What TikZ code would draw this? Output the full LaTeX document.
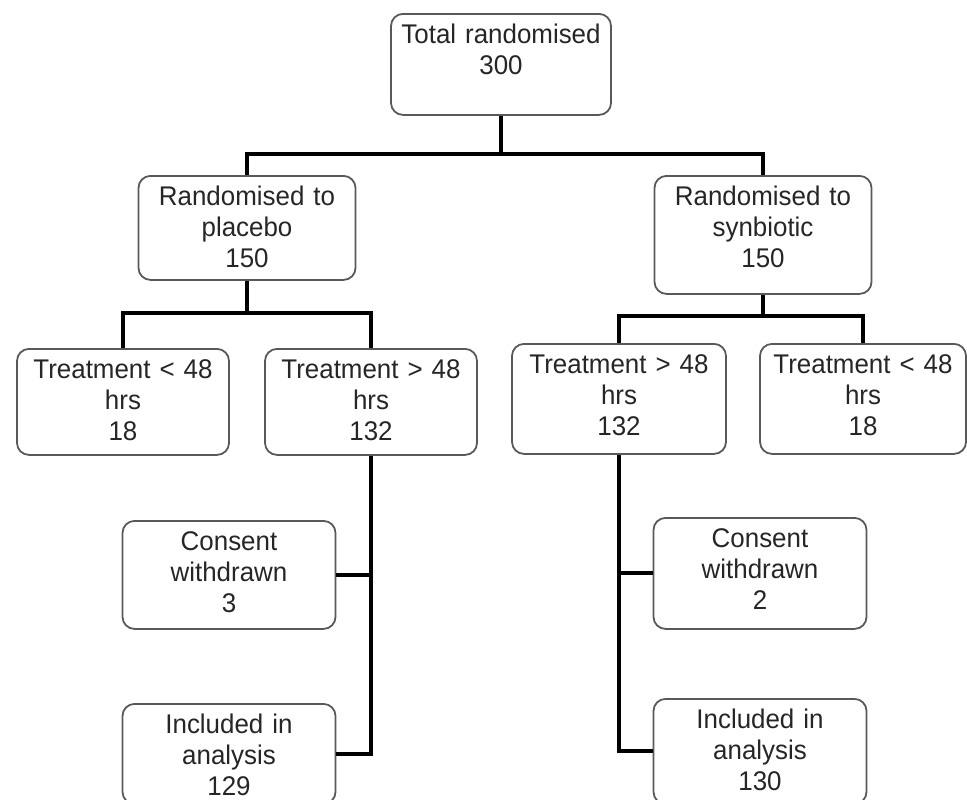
\documentclass[tikz,border=0pt]{standalone}
\usepackage{fontspec}
\setmainfont[FakeStretch=0.96]{Liberation Sans}
\usepackage{tikz}
\tikzset{
	box/.style 2 args={
			draw=black!65, line width=0.9pt, rounded corners=6pt,
			anchor=north, align=center, text=black!85,
			font=\fontsize{13.5}{15.5}\selectfont,
			inner xsep=0pt, inner ysep=5pt,
			text width=#1, text height=10pt, text depth=#2
		},
	link/.style={
			draw=black, line width=2pt
		}
}

\begin{document}
\begin{tikzpicture}[x=0.5pt, y=-0.5pt]
		\clip (0,0) rectangle (967,799);
		\node [box={110pt}{30.5pt}]	(total)			at (501,13)		{Total randomised\\300};
		\node [box={108.5pt}{32pt}]	(placebo)		at (247,175)	{Randomised to\\placebo\\150};
		\node [box={108.5pt}{39pt}]	(synbiotic)		at (763,175)	{Randomised to\\synbiotic\\150};
		\node [box={106pt}{33pt}]	(plshort)		at (123,348)	{Treatment < 48\\hrs\\18};
		\node [box={106pt}{33pt}]	(pllong)		at (371,348)	{Treatment > 48\\hrs\\132};
		\node [box={107pt}{35pt}]	(syllong)		at (619,343)	{Treatment > 48\\hrs\\132};
		\node [box={103pt}{35pt}]	(syshort)		at (863,343)	{Treatment < 48\\hrs\\18};
		\node [box={106.5pt}{34pt}]	(plwithdrawn)	at (229,520)	{Consent\\withdrawn\\3};
		\node [box={106.5pt}{30pt}]	(plincluded)	at (229,703)	{Included in\\analysis\\129};
		\node [box={106.5pt}{35.5pt}]	(sywithdrawn)	at (760,517)	{Consent\\withdrawn\\2};
		\node [box={106.5pt}{32.5pt}]	(syincluded)	at (760,698)	{Included in\\analysis\\130};
		\coordinate (split)		at (501,154);
		\coordinate (plsplit)	at (247,313);
		\coordinate (sysplit)	at (763,316);
		\draw [link]	(total.south) -- (split);
		\draw [link]	(placebo.north) |- (split) -| (synbiotic.north);
		\draw [link]	(placebo.south) -- (plsplit);
		\draw [link]	(plshort.north) |- (plsplit) -| (pllong.north);
		\draw [link]	(synbiotic.south) -- (sysplit);
		\draw [link]	(syllong.north) |- (sysplit) -| (syshort.north);
		\draw [link]	(pllong.south) |- (plincluded.east);
		\draw [link]	(plwithdrawn.east) -- (plwithdrawn.east -| pllong.south);
		\draw [link]	(syllong.south) |- (syincluded.west);
		\draw [link]	(sywithdrawn.west) -- (sywithdrawn.west -| syllong.south);
	\end{tikzpicture}
\end{document}
